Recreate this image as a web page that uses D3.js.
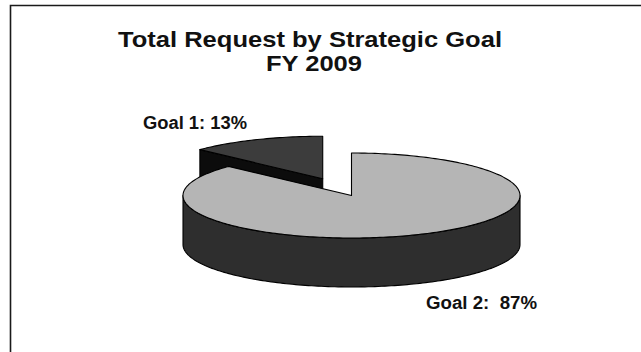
<!DOCTYPE html>
<html>
<head>
<meta charset="utf-8">
<script src="https://cdn.jsdelivr.net/npm/d3@7"></script>
<style>
  body { margin: 0; background: #fff; }
  svg { display: block; }
  text { font-family: "Liberation Sans", Arial, sans-serif; font-weight: bold; fill: #111; }
</style>
</head>
<body>
<svg id="chart" width="641" height="352"></svg>
<script>
'use strict';

// data
const goals = ["Goal 1", "Goal 2"];
const shares = [13, 87];
const labels = ["Goal 1: 13%", "Goal 2:  87%"];
const explode = [0.43, 0];
const titleLines = ["Total Request by Strategic Goal", "FY 2009"];

const svg = d3.select("#chart");
const width = +svg.attr("width"),
    height = +svg.attr("height");

// frame (only left and top edges show)
svg.append("path")
    .attr("d", "M10.5," + height + "V5.5H" + width)
    .attr("fill", "none")
    .attr("stroke", "#1a1a1a")
    .attr("stroke-width", 1.6);

// title
const titleX = [310, 314], titleY = [47, 71], titleW = [384, 96];
svg.selectAll("text.title")
    .data(titleLines)
    .enter().append("text")
    .attr("class", "title")
    .attr("x", function(d, i) { return titleX[i]; })
    .attr("y", function(d, i) { return titleY[i]; })
    .attr("text-anchor", "middle")
    .attr("font-size", 22)
    .attr("textLength", function(d, i) { return titleW[i]; })
    .attr("lengthAdjust", "spacingAndGlyphs")
    .text(function(d) { return d; });

// 3d pie geometry
const cx = 351.5, cy = 195.5, rx = 168.5, ry = 42.5, depth = 49;
const topFill = ["#3c3c3c", "#b5b5b5"];
const wallFill = ["#2a2a2a", "#2e2e2e"];
const cutFill = ["#0c0c0c", "#0c0c0c"];

const a0 = -2 * Math.PI * shares[0] / d3.sum(shares);
const pie = d3.pie().sort(null).startAngle(a0).endAngle(a0 + 2 * Math.PI);
const arcs = pie(shares);

const line = d3.line();

function pt(a, r, ox, oy, dz) {
    return [cx + ox + r * rx * Math.sin(a), cy + oy - r * ry * Math.cos(a) + dz];
}

function arcPts(s, e, ox, oy, dz) {
    let n = Math.max(2, Math.ceil(Math.abs(e - s) / 0.02)),
        pts = [];
    for (let k = 0; k <= n; k++) {
        pts.push(pt(s + (e - s) * k / n, 1, ox, oy, dz));
    }
    return pts;
}

const g = svg.append("g")
    .attr("stroke", "#000")
    .attr("stroke-width", 1.1)
    .attr("stroke-linejoin", "round");

arcs.forEach(function(d, i) {
    let mid = (d.startAngle + d.endAngle) / 2,
        ox = explode[i] * rx * Math.sin(mid),
        oy = -explode[i] * ry * Math.cos(mid),
        c = pt(0, 0, ox, oy, 0);

    // cut faces that face the viewer
    [[d.startAngle, -Math.sin(d.startAngle)], [d.endAngle, Math.sin(d.endAngle)]].forEach(function(f) {
        if (f[1] > 0.01) {
            let p = pt(f[0], 1, ox, oy, 0);
            g.append("path")
                .attr("d", line([c, p, [p[0], p[1] + depth], [c[0], c[1] + depth]]) + "Z")
                .attr("fill", cutFill[i]);
        }
    });

    // outer wall, front half only
    let lo = Math.PI / 2, hi = 3 * Math.PI / 2;
    [0, 2 * Math.PI, -2 * Math.PI].forEach(function(shift) {
        let s = Math.max(d.startAngle, lo + shift),
            e = Math.min(d.endAngle, hi + shift);
        if (e > s) {
            let top = arcPts(s, e, ox, oy, 0),
                bot = arcPts(s, e, ox, oy, depth).reverse();
            g.append("path")
                .attr("d", line(top.concat(bot)) + "Z")
                .attr("fill", wallFill[i]);
        }
    });

    // top face
    g.append("path")
        .attr("d", line([c].concat(arcPts(d.startAngle, d.endAngle, ox, oy, 0))) + "Z")
        .attr("fill", topFill[i]);
});

// labels
const labelX = [143, 426], labelY = [129, 309], labelW = [104, 111];
svg.selectAll("text.label")
    .data(labels)
    .enter().append("text")
    .attr("class", "label")
    .attr("x", function(d, i) { return labelX[i]; })
    .attr("y", function(d, i) { return labelY[i]; })
    .attr("font-size", 18)
    .style("white-space", "pre")
    .attr("textLength", function(d, i) { return labelW[i]; })
    .attr("lengthAdjust", "spacingAndGlyphs")
    .text(function(d) { return d; });
</script>
</body>
</html>
